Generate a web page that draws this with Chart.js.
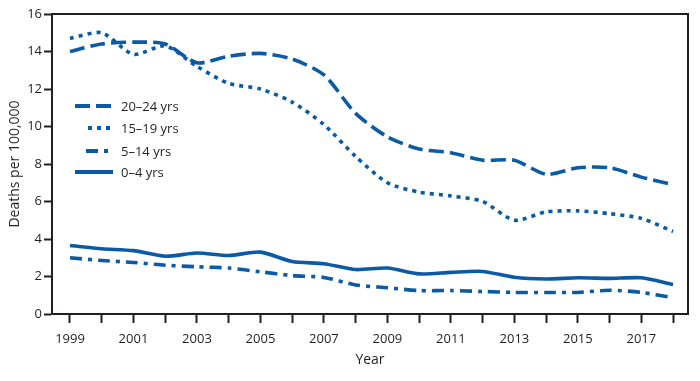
<!DOCTYPE html>
<html>
<head>
<meta charset="utf-8">
<script src="https://cdn.jsdelivr.net/npm/chart.js@4.4.1/dist/chart.umd.min.js"></script>
<style>
html,body{margin:0;padding:0;background:#fff;}
#c{display:block;}
</style>
</head>
<body>
<canvas id="c" width="700" height="381"></canvas>
<script>
const years = [1999,2000,2001,2002,2003,2004,2005,2006,2007,2008,2009,2010,2011,2012,2013,2014,2015,2016,2017,2018];
const age20to24 = [14.0,14.4,14.5,14.4,13.4,13.75,13.9,13.6,12.75,10.7,9.45,8.8,8.6,8.2,8.2,7.45,7.8,7.8,7.3,6.9];
const age15to19 = [14.7,15.0,13.85,14.3,13.2,12.3,12.0,11.3,10.1,8.4,7.0,6.5,6.3,6.0,5.0,5.45,5.5,5.35,5.1,4.4];
const age5to14 = [3.0,2.85,2.75,2.6,2.52,2.45,2.25,2.05,1.95,1.55,1.4,1.25,1.25,1.2,1.15,1.15,1.15,1.27,1.15,0.87];
const age0to4 = [3.65,3.48,3.38,3.08,3.25,3.12,3.3,2.8,2.68,2.37,2.45,2.14,2.22,2.27,1.96,1.87,1.93,1.9,1.93,1.57];
const seriesLabels = ['20\u201324 yrs','15\u201319 yrs','5\u201314 yrs','0\u20134 yrs'];
const yTicks = [0,2,4,6,8,10,12,14,16];

const BLUE = '#0b5aa6';
const INK = '#231f20';
const FONT = '"Open Sans", "Noto Sans", sans-serif';

function pts(arr){ return years.map((y,i)=>({x:y,y:arr[i]})); }

const dashes = [[15,6],[4,5],[12,6,4,6],[]];
const allSeries = [age20to24, age15to19, age5to14, age0to4];

const datasets = allSeries.map((arr,i)=>({
  label: seriesLabels[i],
  data: pts(arr),
  borderColor: BLUE,
  backgroundColor: BLUE,
  borderWidth: 3.6,
  borderDash: dashes[i],
  borderCapStyle: 'butt',
  pointRadius: 0,
  tension: 0.25,
  fill: false
}));

const boxPlugin = {
  id: 'box',
  afterDraw(chart){
    const {ctx, chartArea:a} = chart;
    ctx.save();
    ctx.strokeStyle = INK;
    ctx.lineWidth = 2;
    ctx.setLineDash([]);
    ctx.beginPath();
    ctx.moveTo(a.left-1, a.top);
    ctx.lineTo(a.right, a.top);
    ctx.lineTo(a.right, a.bottom+1);
    ctx.stroke();
    // legend
    const rows = [106,128,151,172];
    const starts = [75,88,86,75];
    ctx.font = '13px ' + FONT;
    ctx.textBaseline = 'middle';
    ctx.textAlign = 'left';
    chart.data.datasets.forEach((ds,i)=>{
      ctx.strokeStyle = BLUE;
      ctx.lineWidth = 4;
      ctx.lineCap = 'butt';
      ctx.setLineDash(ds.borderDash);
      ctx.beginPath();
      ctx.moveTo(starts[i], rows[i]);
      ctx.lineTo(113, rows[i]);
      ctx.stroke();
      ctx.setLineDash([]);
      ctx.fillStyle = INK;
      ctx.fillText(ds.label, 121, rows[i]+1);
    });
    ctx.restore();
  }
};

new Chart(document.getElementById('c'), {
  type: 'line',
  data: { datasets },
  options: {
    responsive: false,
    devicePixelRatio: 1,
    animation: false,
    layout: { padding: { top: 14, right: 12, left: 0, bottom: 0 } },
    plugins: { legend: { display: false }, tooltip: { enabled: false } },
    scales: {
      x: {
        type: 'linear',
        min: 1998.433,
        max: 2018.47,
        afterBuildTicks(scale){ scale.ticks = years.map(v=>({value:v})); },
        afterFit(scale){ scale.height = 67; },
        ticks: {
          autoSkip: false,
          maxRotation: 0,
          padding: 8,
          color: INK,
          font: { family: FONT, size: 13 },
          callback: (v)=> (v % 2 === 1 ? String(v) : '')
        },
        grid: { display: true, drawOnChartArea: false, drawTicks: true, tickLength: 9, tickColor: INK, tickWidth: 2 },
        border: { display: true, color: INK, width: 2 },
        title: { display: true, text: 'Year', color: INK, font: { family: FONT, size: 14 }, padding: { top: 0, bottom: 13 } }
      },
      y: {
        type: 'linear',
        min: 0,
        max: 16,
        afterBuildTicks(scale){ scale.ticks = yTicks.map(v=>({value:v})); },
        afterFit(scale){ scale.width = 52; },
        ticks: {
          padding: 2,
          color: INK,
          font: { family: FONT, size: 13 }
        },
        grid: { display: true, drawOnChartArea: false, drawTicks: true, tickLength: 8, tickColor: INK, tickWidth: 2 },
        border: { display: true, color: INK, width: 2 },
        title: { display: true, text: 'Deaths per 100,000', color: INK, font: { family: FONT, size: 14 }, padding: { top: 7, bottom: 0 } }
      }
    }
  },
  plugins: [boxPlugin]
});
</script>
</body>
</html>
